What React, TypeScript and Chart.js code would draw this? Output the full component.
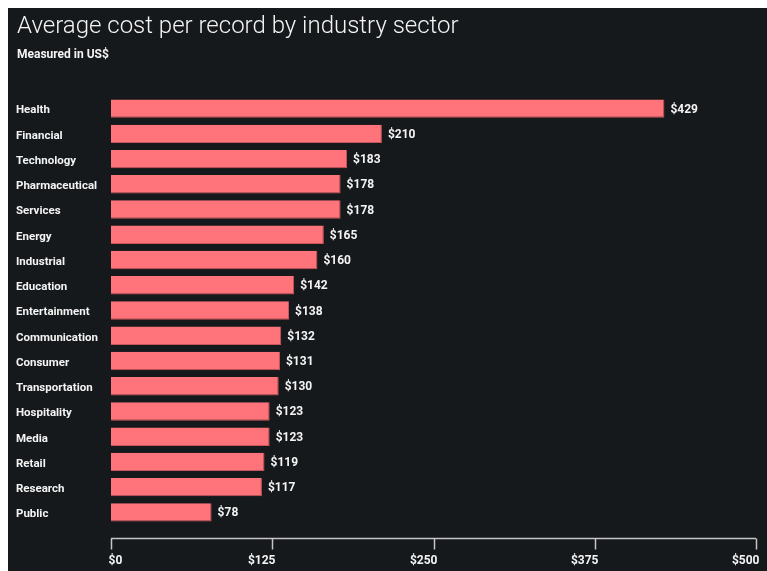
import React, { useEffect, useRef } from "react";
import { Chart, registerables } from "chart.js";

Chart.register(...registerables);

const TITLE = "Average cost per record by industry sector";
const SUBTITLE = "Measured in US$";
const categories = [
  "Health", "Financial", "Technology", "Pharmaceutical", "Services", "Energy",
  "Industrial", "Education", "Entertainment", "Communication", "Consumer",
  "Transportation", "Hospitality", "Media", "Retail", "Research", "Public",
];
const values = [429, 210, 183, 178, 178, 165, 160, 142, 138, 132, 131, 130, 123, 123, 119, 117, 78];
const xTicks = [0, 125, 250, 375, 500];
const xTickLabels = ["$0", "$125", "$250", "$375", "$500"];

const W = 759;
const H = 563;
const BG = "#16191c";
const TEXT = "#f4f4f4";
const BAR = "#ff737a";
const FONT = "Roboto, 'Open Sans', sans-serif";

export default function App() {
  const ref = useRef<HTMLCanvasElement | null>(null);

  useEffect(() => {
    if (!ref.current) return;
    const overlay = {
      id: "overlay",
      afterDraw(chart: any) {
        const ctx = chart.ctx;
        const xs = chart.scales.x;
        const area = chart.chartArea;
        ctx.save();
        ctx.fillStyle = TEXT;
        ctx.textBaseline = "alphabetic";
        ctx.textAlign = "left";
        ctx.font = `300 24px ${FONT}`;
        ctx.fillText(TITLE, 9, 25);
        ctx.font = `bold 12px ${FONT}`;
        ctx.fillText(SUBTITLE, 9, 50);
        const meta = chart.getDatasetMeta(0);
        ctx.font = `bold 12px ${FONT}`;
        ctx.textBaseline = "middle";
        meta.data.forEach((bar: any, i: number) => {
          ctx.fillText("$" + values[i], bar.x + 6, bar.y + 1);
        });
        const axisY = area.bottom + 13.5;
        ctx.strokeStyle = "#c6c6c6";
        ctx.lineWidth = 1.5;
        ctx.beginPath();
        ctx.moveTo(xs.getPixelForValue(0), axisY);
        ctx.lineTo(xs.getPixelForValue(500), axisY);
        ctx.stroke();
        xTicks.forEach((t, i) => {
          const px = Math.round(xs.getPixelForValue(t)) + 0.5;
          ctx.beginPath();
          ctx.moveTo(px, axisY);
          ctx.lineTo(px, axisY + 11);
          ctx.stroke();
          ctx.fillStyle = TEXT;
          ctx.font = `bold 12px ${FONT}`;
          if (i === 0) {
            ctx.textAlign = "left";
            ctx.fillText(xTickLabels[i], px - 3, axisY + 22);
          } else {
            ctx.textAlign = "right";
            ctx.fillText(xTickLabels[i], px + 3, axisY + 22);
          }
        });
        ctx.restore();
      },
    };

    const chart = new Chart(ref.current, {
      type: "bar",
      data: {
        labels: categories,
        datasets: [
          {
            data: values,
            backgroundColor: BAR,
            borderColor: "#c9555c",
            borderWidth: { top: 0, left: 0, right: 1, bottom: 1 },
            borderSkipped: false,
            categoryPercentage: 1,
            barPercentage: 0.73,
          },
        ],
      },
      options: {
        indexAxis: "y",
        animation: false,
        responsive: false,
        maintainAspectRatio: false,
        layout: { padding: { top: 88, bottom: 46, left: 8, right: 11 } },
        plugins: { legend: { display: false }, tooltip: { enabled: false }, title: { display: false } },
        scales: {
          x: { display: false, min: 0, max: 500 },
          y: {
            grid: { display: false },
            border: { display: false },
            afterFit: (scale: any) => { scale.width = 95; },
            ticks: {
              crossAlign: "far",
              color: TEXT,
              padding: 0,
              labelOffset: 2,
              font: { family: FONT, size: 11.5, weight: "bold" },
            },
          },
        },
      },
      plugins: [overlay],
    } as any);
    return () => chart.destroy();
  }, []);

  return (
    <div style={{ position: "fixed", left: 8, top: 8, right: 0, bottom: 0, background: BG, overflow: "hidden" }}>
      <canvas ref={ref} width={W} height={H} style={{ display: "block" }} />
    </div>
  );
}
